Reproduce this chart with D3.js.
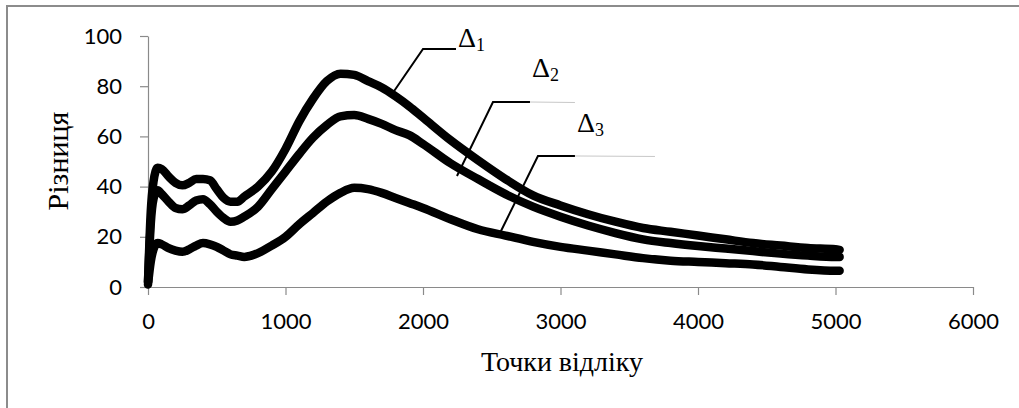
<!DOCTYPE html>
<html>
<head>
<meta charset="utf-8">
<script src="https://cdn.jsdelivr.net/npm/d3@7"></script>
<style>
  html, body { margin: 0; padding: 0; background: #fff; }
  svg { display: block; }
</style>
</head>
<body>
<svg id="chart" width="1019" height="408"></svg>
<script>
// ---- data ----
const xPoints = [0, 20, 40, 70, 100, 150, 200, 250, 300, 350, 400, 450, 500, 550, 600, 650, 700, 800, 900, 1000,
  1100, 1200, 1300, 1400, 1500, 1600, 1700, 1800, 1900, 2000, 2200, 2400, 2600, 2800, 3000, 3200, 3400, 3600,
  3800, 4000, 4200, 4400, 4600, 4800, 5000, 5030];
const delta1 = [2, 30, 42, 47.5, 47, 44, 41.5, 40.5, 41.5, 43, 43, 42.5, 39, 35.5, 34, 34, 36, 40, 46, 55,
  66, 75, 82, 85, 84.5, 82, 79.5, 76, 72, 67.5, 58.5, 50.5, 43, 36.5, 32.5, 29, 26, 23.5, 22, 20.5,
  19, 17.5, 16.5, 15.5, 15, 14.8];
const delta2 = [2, 25, 35, 38.5, 37, 34, 31.5, 31, 32.5, 34.5, 35, 33, 30, 27.5, 26, 26.5, 28, 32, 39, 46,
  53, 59.5, 64.5, 68, 68.5, 67, 65, 62.5, 60.5, 57, 49.3, 43, 37, 32, 28, 24.5, 21.5, 19, 17.5, 16.3,
  15.3, 14.3, 13.3, 12.5, 12, 12];
const delta3 = [1, 10, 15, 17.5, 17, 15.5, 14.5, 14, 15, 16.5, 17.5, 17, 16, 14.5, 13, 12.5, 12, 13.5, 16.5, 20,
  25, 29.5, 34, 37.5, 39.5, 39, 37.5, 35.5, 33.5, 31.5, 27, 23, 20.5, 18, 16, 14.5, 13, 11.5, 10.5, 10,
  9.5, 9, 8, 7, 6.5, 6.5];
const xTicks = [0, 1000, 2000, 3000, 4000, 5000, 6000];
const yTicks = [0, 20, 40, 60, 80, 100];
const seriesNames = ["1", "2", "3"];
// annotation anchors in data units: curve point, elbow, dark end, light end, label
const annotCurve = [[1775, 76.9], [2247, 44.2], [2560, 21.5]];
const annotElbow = [[2000, 94.8], [2509, 73.7], [2836, 52.2]];
const annotDarkEnd = [[2240, 94.8], [2778, 73.7], [3105, 52.2]];
const annotLightEnd = [null, [3105, 73.5], [3687, 52.0]];
const annotLabel = [[2255, 95.6], [2793, 83.7], [3120, 61.8]];
const xTitle = "Точки відліку";
const yTitle = "Різниця";

// ---- drawing ----
const svg = d3.select("#chart");
const W = 1019, H = 408;
const x = d3.scaleLinear().domain([0, 6000]).range([148, 973]);
const y = d3.scaleLinear().domain([0, 100]).range([287, 36]);

svg.append("rect").attr("width", W).attr("height", H).attr("fill", "#fff");

// outer frame (only top and left visible)
svg.append("path")
  .attr("d", `M7,${H + 5} V6 H${W + 5}`)
  .attr("fill", "none").attr("stroke", "#8c8c8c").attr("stroke-width", 2);

const axisColor = "#8a8a8a";
const tickFont = "Lato, 'Open Sans', sans-serif";

const gx = svg.append("g").attr("transform", `translate(0,${y(0)})`)
  .call(d3.axisBottom(x).tickValues(xTicks).tickFormat(d3.format("d")).tickSize(8).tickSizeOuter(0).tickPadding(18));
const gy = svg.append("g").attr("transform", `translate(${x(0)},0)`)
  .call(d3.axisLeft(y).tickValues(yTicks).tickFormat(d3.format("d")).tickSize(8).tickSizeOuter(0).tickPadding(18));

[gx, gy].forEach(g => {
  g.select(".domain").attr("stroke", axisColor).attr("stroke-width", 1.2);
  g.selectAll(".tick line").attr("stroke", axisColor).attr("stroke-width", 1.2);
  g.selectAll(".tick text").attr("fill", "#000").style("font-family", tickFont).style("font-size", "22px");
});

// series
const series = [delta1, delta2, delta3];
const line = d3.line().x(d => x(d[0])).y(d => y(d[1])).curve(d3.curveMonotoneX);
series.forEach((vals, i) => {
  const pts = xPoints.map((xv, j) => [xv, vals[j]]);
  svg.append("path").datum(pts)
    .attr("d", line)
    .attr("fill", "none")
    .attr("stroke", "#000")
    .attr("stroke-width", 8.5)
    .attr("stroke-linejoin", "round")
    .attr("stroke-linecap", "round");
});

// annotations
seriesNames.forEach((name, i) => {
  if (annotLightEnd[i]) {
    svg.append("line")
      .attr("x1", x(annotDarkEnd[i][0])).attr("y1", y(annotDarkEnd[i][1]))
      .attr("x2", x(annotLightEnd[i][0])).attr("y2", y(annotLightEnd[i][1]))
      .attr("stroke", "#c8c8c8").attr("stroke-width", 1);
  }
  svg.append("path")
    .attr("d", d3.line()([
      [x(annotCurve[i][0]), y(annotCurve[i][1])],
      [x(annotElbow[i][0]), y(annotElbow[i][1])],
      [x(annotDarkEnd[i][0]), y(annotDarkEnd[i][1])]
    ]))
    .attr("fill", "none").attr("stroke", "#000").attr("stroke-width", 2);
  const t = svg.append("text")
    .attr("x", x(annotLabel[i][0])).attr("y", y(annotLabel[i][1]))
    .style("font-family", "'Liberation Serif', 'Times New Roman', serif")
    .style("font-size", "28px").attr("fill", "#000");
  t.append("tspan").text("Δ");
  t.append("tspan").attr("dy", 4).style("font-size", "18px").text(name);
});

// axis titles
svg.append("text")
  .attr("x", 562).attr("y", 371)
  .attr("text-anchor", "middle")
  .style("font-family", "'Liberation Serif', 'Times New Roman', serif")
  .style("font-size", "28px")
  .text(xTitle);
svg.append("text")
  .attr("transform", `translate(68,161) rotate(-90)`)
  .attr("text-anchor", "middle")
  .style("font-family", "'Liberation Serif', 'Times New Roman', serif")
  .style("font-size", "30px")
  .text(yTitle);
</script>
</body>
</html>
